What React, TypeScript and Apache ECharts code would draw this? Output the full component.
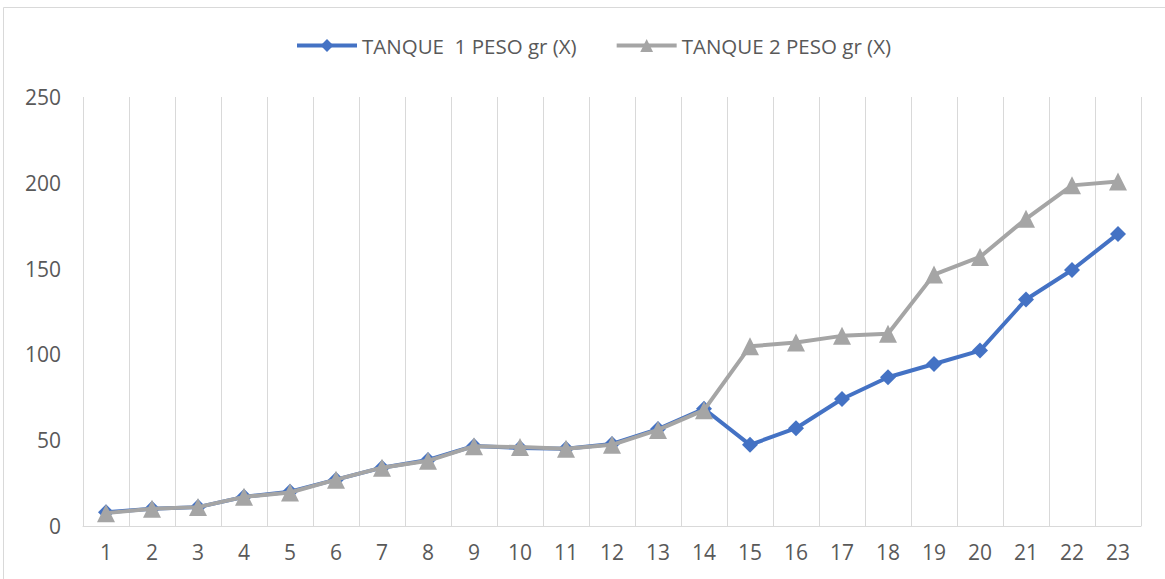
import React, { useEffect, useRef } from "react";
import * as echarts from "echarts";

const categories = ["1","2","3","4","5","6","7","8","9","10","11","12","13","14","15","16","17","18","19","20","21","22","23"];
const tanque1 = [8, 10, 11, 17, 20, 27, 34, 38.5, 46.6, 45.5, 45, 47.8, 56.5, 68.3, 47.3, 57, 74, 86.7, 94.4, 102.2, 132, 149.2, 170.2];
const tanque2 = [7.5, 10, 11, 17, 19.5, 27, 34, 38, 46.5, 46, 45, 47.3, 56, 67.5, 104.7, 106.9, 110.8, 112, 146.5, 156.8, 179, 198.5, 200.8];
const seriesNames = ["TANQUE  1 PESO gr (X)", "TANQUE 2 PESO gr (X)"];
const yTicks = { min: 0, max: 250, interval: 50 };

export default function App() {
  const ref = useRef<HTMLDivElement>(null);
  useEffect(() => {
    if (!ref.current) return;
    const chart = echarts.init(ref.current, null, { renderer: "svg" });
    const font = "'Open Sans', 'DejaVu Sans', sans-serif";
    const colors = ["#4472C4", "#A5A5A5"];
    chart.setOption({
      animation: false,
      backgroundColor: "#ffffff",
      textStyle: { fontFamily: font },
      graphic: [
        {
          type: "rect",
          shape: { x: 3.5, y: 7.5, width: 1200, height: 700 },
          style: { fill: "none", stroke: "#d9d9d9", lineWidth: 1 },
          silent: true,
        },
      ],
      legend: {
        top: 30,
        left: 290,
        itemWidth: 60,
        itemHeight: 16,
        itemGap: 38,
        textStyle: { fontSize: 20.5, color: "#595959", fontFamily: font },
        data: seriesNames.map((n, i) => ({
          name: n,
          lineStyle: { width: 4, color: colors[i] },
        })),
      },
      grid: { left: 83, top: 97, width: 1058, height: 429, containLabel: false },
      xAxis: {
        type: "category",
        data: categories,
        boundaryGap: true,
        axisLine: { lineStyle: { color: "#d9d9d9", width: 1 } },
        axisTick: { show: false },
        axisLabel: { color: "#595959", fontSize: 21, margin: 15, fontFamily: font },
        splitLine: { show: true, lineStyle: { color: "#d9d9d9", width: 1 } },
      },
      yAxis: {
        type: "value",
        min: yTicks.min,
        max: yTicks.max,
        interval: yTicks.interval,
        axisLine: { show: false },
        axisTick: { show: false },
        axisLabel: { color: "#595959", fontSize: 21, margin: 22, fontFamily: font },
        splitLine: { show: false },
      },
      series: [
        {
          name: seriesNames[0],
          type: "line",
          data: tanque1,
          symbol: "diamond",
          symbolSize: 16,
          lineStyle: { color: colors[0], width: 4 },
          itemStyle: { color: colors[0] },
          z: 2,
        },
        {
          name: seriesNames[1],
          type: "line",
          data: tanque2,
          symbol: "triangle",
          symbolSize: 18,
          lineStyle: { color: colors[1], width: 4 },
          itemStyle: { color: colors[1] },
          z: 3,
        },
      ],
    });
    return () => chart.dispose();
  }, []);
  return (
    <div
      ref={ref}
      style={{ position: "fixed", left: 0, top: 0, width: 1165, height: 579 }}
    />
  );
}
